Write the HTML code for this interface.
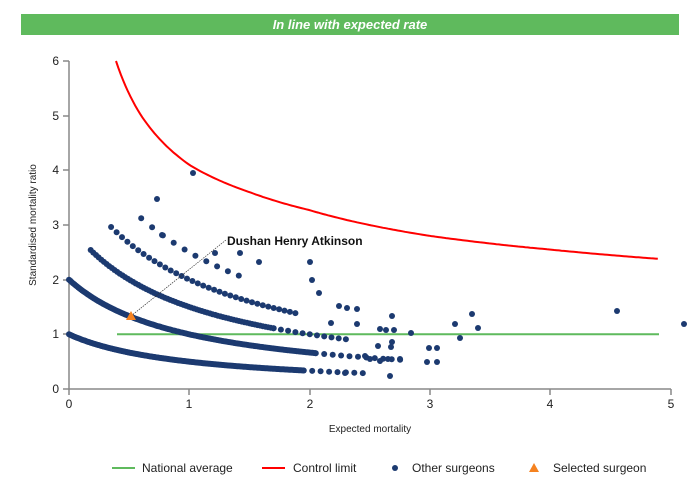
<!DOCTYPE html><html><head><meta charset="utf-8"><style>body{margin:0;background:#fff;font-family:"Liberation Sans",sans-serif}svg{display:block}</style></head><body>
<svg id="s" width="700" height="500" xmlns="http://www.w3.org/2000/svg" font-family="Liberation Sans, sans-serif">
<rect x="21" y="14" width="658" height="21" fill="#5fba5d"/>
<text x="350" y="29" text-anchor="middle" fill="#fff" font-size="13" font-weight="bold" font-style="italic">In line with expected rate</text>
<g stroke="#888" stroke-width="1.5" fill="none">
<path d="M69,61V389H671"/>
<path d="M63,61H69M63,116H69M63,170H69M63,225H69M63,280H69M63,334H69M63,389H69"/>
<path d="M69,389V395M189,389V395M310,389V395M430,389V395M550,389V395M671,389V395"/>
</g>
<g font-size="12" fill="#222" text-anchor="end">
<text x="59" y="65">6</text><text x="59" y="120">5</text><text x="59" y="174">4</text><text x="59" y="229">3</text><text x="59" y="284">2</text><text x="59" y="338">1</text><text x="59" y="393">0</text></g>
<g font-size="12" fill="#222" text-anchor="middle">
<text x="69" y="408">0</text><text x="189" y="408">1</text><text x="310" y="408">2</text><text x="430" y="408">3</text><text x="550" y="408">4</text><text x="671" y="408">5</text></g>
<text x="370" y="432" font-size="10" text-anchor="middle" fill="#222">Expected mortality</text>
<text transform="translate(36,225) rotate(-90)" font-size="10" text-anchor="middle" fill="#222">Standardised mortality ratio</text>
<line x1="117" y1="334.3" x2="659" y2="334.3" stroke="#5fba5d" stroke-width="2"/>
<path id="cl" fill="none" stroke="#f00" stroke-width="2"/>
<g id="dots" fill="#1c3a70"></g>
<line x1="131" y1="316" x2="226" y2="240" stroke="#333" stroke-width="0.7" stroke-dasharray="1.5,1"/>
<polygon points="131,311 126,320 136,320" fill="#f58220"/>
<text x="227" y="245" font-size="12" font-weight="bold" fill="#111">Dushan Henry Atkinson</text>
<line x1="112" y1="468" x2="135" y2="468" stroke="#5fba5d" stroke-width="2"/>
<text x="142" y="472" font-size="12" fill="#222">National average</text>
<line x1="262" y1="468" x2="285" y2="468" stroke="#f00" stroke-width="2"/>
<text x="293" y="472" font-size="12" fill="#222">Control limit</text>
<circle cx="395" cy="468" r="3" fill="#1c3a70"/>
<text x="412" y="472" font-size="12" fill="#222">Other surgeons</text>
<polygon points="534,463 529,472 539,472" fill="#f58220"/>
<text x="553" y="472" font-size="12" fill="#222">Selected surgeon</text>
</svg>
<script>
var X=e=>69+e*120.4,Y=s=>389-s*54.67;
var P=[[0.39,6],[0.6,5.0],[1,4.1],[1.5,3.6],[2,3.27],[3,2.8],[4,2.55],[4.9,2.38]];
var d="";for(var e=0.39;e<=4.9;e+=0.02){var i=0;while(i<P.length-2&&e>P[i+1][0])i++;var a=P[i],b=P[i+1];var t=(Math.log(e)-Math.log(a[0]))/(Math.log(b[0])-Math.log(a[0]));var s=Math.exp(Math.log(a[1]-1)+t*(Math.log(b[1]-1)-Math.log(a[1]-1)))+1;d+=(d?"L":"M")+X(e).toFixed(1)+","+Y(s).toFixed(1);}
document.getElementById("cl").setAttribute("d",d);
var g=document.getElementById("dots"),h="";
function dot(e,s){h+='<circle cx="'+X(e).toFixed(1)+'" cy="'+Y(s).toFixed(1)+'" r="3"/>';}
function band(k,a,b,st){for(var e=a;e<=b;e+=st)dot(e,k/(e+1));}
band(1,0,1.95,0.009);band(1,1.95,2.5,0.07);
band(2,0,2.05,0.011);band(2,2.05,2.75,0.07);
band(3,0.18,1.7,0.022);band(3,1.7,2.35,0.06);
band(4,0.35,1.9,0.045);
band(5,0.6,1.45,0.09);
var ex=[[193,173],[157,199],[162,235],[215,253],[240,253],[259,262],[310,262],[312,280],[319,293],[331,323],[339,306],[347,308],[357,309],[357,324],[380,329],[386,330],[392,316],[394,330],[400,359],[390,376],[392,342],[391,347],[378,346],[429,348],[437,348],[427,362],[437,362],[455,324],[460,338],[472,314],[478,328],[411,333],[617,311],[684,324],[345,373],[365,356],[370,359],[380,361],[388,359]];
ex.forEach(p=>h+='<circle cx="'+p[0]+'" cy="'+p[1]+'" r="3"/>');
g.innerHTML=h;
</script>
</body></html>
